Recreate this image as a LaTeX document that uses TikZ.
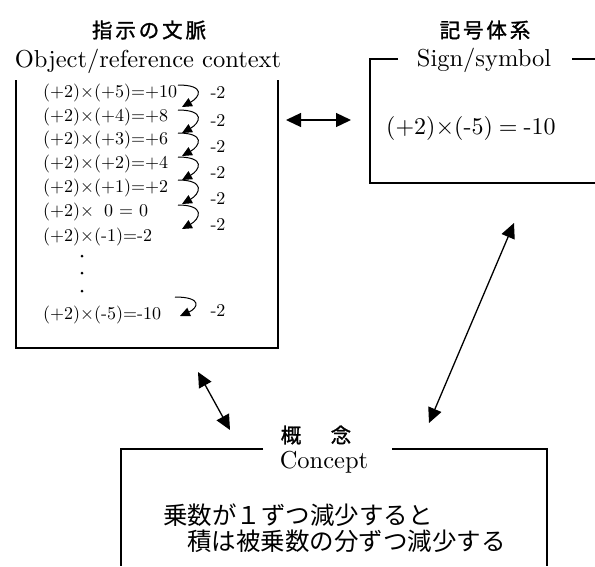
\documentclass[tikz,border=0pt]{standalone}
\usepackage{fontspec}
\setmainfont{lmroman10-regular.otf}
\newfontfamily\jp{Noto Sans CJK JP}
\newfontfamily\jpb{Noto Sans CJK JP}[FakeBold=1.4,LetterSpace=14]
\usetikzlibrary{arrows.meta}
\begin{document}
\begin{tikzpicture}[x=1pt,y=-1pt,
  frame/.style={line width=1.3pt},
  conn/.style={line width=1.3pt,{Triangle[length=15pt,width=14pt]}-{Triangle[length=15pt,width=14pt]}},
  curv/.style={line width=1pt,-{Triangle[length=10pt,width=9pt]}},
  eq/.style={anchor=west,inner sep=0pt,font=\fontsize{18}{20}\selectfont},
  minus/.style={inner sep=0pt,font=\fontsize{18}{20}\selectfont},
  head/.style={inner sep=0pt,font=\fontsize{24.5}{26}\selectfont},
  jhead/.style={inner sep=0pt,font=\jpb\fontsize{20.5}{24}\selectfont},
  jtext/.style={anchor=west,inner sep=0pt,font=\jp\fontsize{24.5}{27}\selectfont}]
\useasboundingbox (0,0) rectangle (595,566);

% ---- left box: object/reference context
\node[jhead] (h1) at (149,30) {指示の文脈};
\node[head] (h1e) at (148,61) {Object/reference context};
\draw[frame] (16,80) -- (16,348) -- (278,348) -- (278,80);

\node[eq] (e1) at (43,93) {(+2)×(+5)=+10};
\node[eq] (e2) at (43,117) {(+2)×(+4)=+8};
\node[eq] (e3) at (43,140) {(+2)×(+3)=+6};
\node[eq] (e4) at (43,164) {(+2)×(+2)=+4};
\node[eq] (e5) at (43,188) {(+2)×(+1)=+2};
\node[eq] (e6) at (43,212) {(+2)×\hspace{0.55em}0 = 0};
\node[eq] (e7) at (43,237) {(+2)×(-1)=-2};
\node[eq] (e8) at (43,315) {(+2)×(-5)=-10};
\fill (82,256) circle (1.5) (82,273) circle (1.5) (82,291) circle (1.5);

\foreach \i/\y in {1/93,2/120,3/146,4/172,5/198,6/224,7/310}
  \node[minus] (m\i) at (218,\y) {-2};

\foreach \i/\a/\b in {1/85/107,2/110/133,3/133/156,4/157/180,5/180/204,6/205/229}{
  \coordinate (s\i) at (178,\a);
  \coordinate (t\i) at (182,\b);
  \draw[curv] (s\i) .. controls +(28,0) and +(18,-10) .. (t\i);
}
\coordinate (s7) at (175,297);
\coordinate (t7) at (180,316);
\draw[curv] (s7) .. controls +(28,0) and +(18,-8) .. (t7);

% ---- right box: sign/symbol
\node[jhead] (h2) at (485,30) {記号体系};
\node[head] (h2e) at (484,60) {Sign/symbol};
\draw[frame] (398,59) -- (370,59) -- (370,183) -- (595,183);
\draw[frame] (572,59) -- (595,59);
\node[anchor=west,inner sep=0pt,font=\fontsize{24}{26}\selectfont] (se) at (386,128) {(+2)×(-5)\hspace{6pt}=\hspace{6pt}-10};

% ---- bottom box: concept
\node[jhead] (h3) at (316,435) {概　\hspace{6pt}念};
\node[head] (h3e) at (324,462) {Concept};
\draw[frame] (263,449) -- (121,449) -- (121,566);
\draw[frame] (392,449) -- (547,449) -- (547,566);
\node[jtext] (c1) at (163,515) {乗数が１ずつ減少すると};
\node[jtext] (c2) at (187,541) {積は被乗数の分ずつ減少する};

% ---- connectors
\coordinate (A1) at (286,120);
\coordinate (A2) at (351,120);
\coordinate (B1) at (198,372);
\coordinate (B2) at (230,430);
\coordinate (C1) at (514,223);
\coordinate (C2) at (429,423);
\draw[conn] (A1) -- (A2);
\draw[conn] (B1) -- (B2);
\draw[conn] (C1) -- (C2);
\end{tikzpicture}
\end{document}
